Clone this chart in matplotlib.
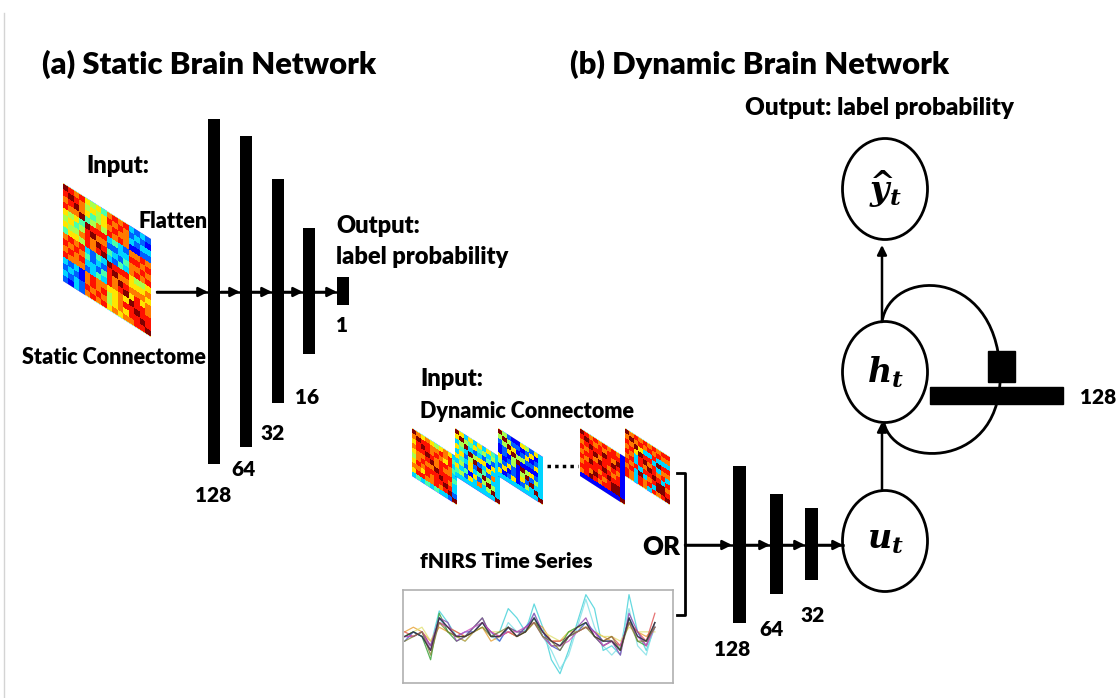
import numpy as np
import matplotlib
matplotlib.use("Agg")
import matplotlib.pyplot as plt
from matplotlib.patches import Ellipse, Rectangle, PathPatch
from matplotlib.path import Path
from matplotlib.transforms import Affine2D

plt.rcParams["font.family"] = ["Lato", "DejaVu Sans"]
plt.rcParams["mathtext.fontset"] = "custom"
plt.rcParams["mathtext.it"] = "DejaVu Serif:italic:bold"
plt.rcParams["mathtext.rm"] = "DejaVu Serif:bold"

# === data ===
static_units = [128, 64, 32, 16, 1]
dynamic_units = [128, 64, 32]
rnn_units = 128

# static connectome, lower triangle, digits 0..9 on the jet scale
static_conn = [
    "9",
    "89",
    "789",
    "8779",
    "65649",
    "564589",
    "6557879",
    "46658789",
    "787832439",
    "8787423289",
    "78783324879",
    "877723438789",
    "3231787766769",
    "23217878567889",
    "323287875676889",
    "2132787867677889",
]

# dynamic connectomes (5 windows shown), lower triangles
dyn_conn = [
    ["9", "79", "689", "7889", "67789", "578779", "6878889",
     "77687889", "688778789", "3434343329"],
    ["9", "69", "359", "6439", "36259", "643629", "3526349",
     "63416259", "452637359", "3333333339"],
    ["9", "59", "259", "1269", "12159", "612519", "5262159",
     "26121629", "612612539", "3333333339"],
    ["9", "89", "789", "8789", "78879", "879889", "7888789",
     "88798789", "789878899", "1111111119"],
    ["9", "79", "879", "7869", "87389", "783879", "8783889",
     "78393789", "873878399", "8738738789"],
]

# fNIRS channels (30 samples each)
fnirs = {
    "#3fd0d8": [0, 1, 0, -2, 5.5, 3, 0, -1, 1, 3, 0, 1, 6, 4, 1, 7, 2, -5, -8, -3, 3, 9, 6, -3, -2, -4, 9, 1, -3, 2],
    "#7fe0e6": [0, 0, 1, -3, 4, 1, 0, 0, 2, 3, 0, -1, 3, 1, 2, 5, 0, -3, -7, -4, 2, 8, 2, -2, -4, -2, 6, -2, -4, 3],
    "#e8a030": [1, 2, 1, -1, 2, 1, 0, -1, 1, 2, -1, 0, 1, 0, 1, 3, 2, -1, -1, 1, 1, 2, 1, 0, -1, -2, 3, 1, 0, 2],
    "#e0e070": [0, 1, 2, -1, 3, 2, 1, 0, 1, 2, 1, 1, 1, 0, 2, 3, 1, 0, -1, 1, 2, 2, 1, 0, 0, -1, 2, 1, 1, 1],
    "#e05050": [1, 0, 1, -2, 3, 2, 1, 0, 1, 3, 1, 0, 1, 0, 2, 3, 1, -1, -1, 0, 1, 2, 1, -1, 0, -2, 3, 1, -1, 5],
    "#30a030": [0, 1, 0, -5, 5, 1, -1, 0, 2, 4, 0, 0, 2, 1, 1, 4, 0, -2, -2, 1, 2, 3, 0, -2, -1, -3, 4, -1, -2, 3],
    "#4050d0": [-1, 1, 0, -3, 4, 2, 0, 1, 1, 3, 1, -1, 2, 0, 2, 4, 1, -2, -3, 0, 1, 3, 1, -1, -1, -3, 4, 0, -1, 2],
    "#9040b0": [0, 0, 1, -2, 4, 3, -1, 0, 2, 4, 0, 0, 2, 1, 1, 5, 1, -1, -2, 0, 2, 4, 0, -2, -1, -4, 5, 1, -2, 3],
    "#d050c0": [0, 0, 1, -3, 3, 2, 0, 1, 2, 3, 1, 0, 1, 1, 2, 3, 0, -2, -2, -1, 1, 2, 1, -2, -1, -2, 3, 0, -2, 2],
    "#808030": [-1, 0, 1, -4, 3, 1, 0, 0, 1, 2, 0, 1, 2, 0, 1, 3, 0, -1, -3, 0, 1, 2, 0, -1, 0, -3, 3, -1, -1, 2],
    "#303030": [0, 1, 0, -3, 4, 2, 0, 0, 1, 3, 0, 0, 2, 0, 1, 4, 1, -1, -2, 0, 2, 3, 0, -1, -1, -3, 4, 0, -1, 3],
}


def tri_to_matrix(rows):
    n = len(rows)
    m = np.zeros((n, n))
    for i, r in enumerate(rows):
        for j, c in enumerate(r):
            m[i, j] = int(c)
            m[j, i] = int(c)
    return m


def skew_map(ax, mat, x0, y0, w, h, shear):
    # unit square -> parallelogram with vertical sides
    tr = Affine2D(np.array([[w, 0, x0], [shear, h, y0], [0, 0, 1]])) + ax.transData
    ax.imshow(mat, cmap="jet", vmin=0, vmax=9, extent=(0, 1, 0, 1),
              origin="lower", interpolation="nearest", transform=tr)


fig = plt.figure(figsize=(11.16, 6.98), dpi=100)
ax = fig.add_axes([0, 0, 1, 1])

bold = dict(fontweight="heavy", color="black", va="center")

# === (a) static network ===
skew_map(ax, tri_to_matrix(static_conn), 63, 183, 88, 98, 56)

# === (b) dynamic connectome windows ===
for rows, x0 in zip(dyn_conn, [412, 455, 498, 580, 625]):
    skew_map(ax, tri_to_matrix(rows), x0, 428, 45, 48, 29)

ax.set_xlim(0, 1116)
ax.set_ylim(698, 0)
ax.set_aspect("auto")
ax.axis("off")

# faint left frame line
ax.plot([4, 4], [13, 698], color="#d4d4d4", lw=1)

# === titles ===
ax.text(42, 64, "(a) Static Brain Network", fontsize=22.3, ha="left", **bold)
ax.text(570, 64, "(b) Dynamic Brain Network", fontsize=22.3, ha="left", **bold)
ax.text(745, 108, "Output: label probability", fontsize=17.5, ha="left", **bold)

ax.text(86, 166, "Input:", fontsize=17, ha="left", **bold)
ax.text(139, 222, "Flatten", fontsize=15.5, ha="left", **bold)
ax.text(22, 357, "Static Connectome", fontsize=15.5, ha="left", **bold)

s_x = [214, 246, 278, 309, 343]
s_h = [345, 311, 224, 126, 28]
s_lab = [(213, 495), (243, 470), (273, 433), (307, 397), (342, 326)]
ax.bar(s_x, s_h, width=12, bottom=[291 - hh / 2 for hh in s_h], color="black")
for u, (lx, ly) in zip(static_units, s_lab):
    ax.text(lx, ly, str(u), fontsize=15, ha="center", **bold)

arrow = dict(arrowstyle="-|>", color="black", lw=1.8, mutation_scale=14, shrinkA=0, shrinkB=0)
ax.plot([157, 337], [292, 292], color="black", lw=1.8)
starts = [157, 221, 252, 284, 315]
for a, xx in zip(starts, s_x):
    ax.annotate("", xy=(xx - 6, 292), xytext=(a, 292), arrowprops=arrow)

ax.text(336, 226, "Output:", fontsize=17, ha="left", **bold)
ax.text(336, 257, "label probability", fontsize=17, ha="left", **bold)

# === (b) dynamic network ===
ax.text(420, 379, "Input:", fontsize=17, ha="left", **bold)
ax.text(420, 411, "Dynamic Connectome", fontsize=15.5, ha="left", **bold)
ax.plot([547, 578], [466, 466], color="black", lw=2.5, linestyle=(0, (1, 1.2)))

ax.text(420, 561, "fNIRS Time Series", fontsize=15.3, ha="left", **bold)
ts_ax = fig.add_axes([403 / 1116, 1 - 683 / 698, 270 / 1116, 93 / 698])
for col, vals in fnirs.items():
    ts_ax.plot(range(len(vals)), vals, color=col, lw=0.9, alpha=0.8)
ts_ax.set_xlim(-0.2, 31.1)
ts_ax.set_ylim(-10, 10)
ts_ax.set_xticks([])
ts_ax.set_yticks([])
for sp in ts_ax.spines.values():
    sp.set_color("#b0b0b0")
    sp.set_linewidth(1.2)

ax.text(642, 547, "OR", fontsize=18.5, ha="left", **bold)
ax.plot([677, 685, 685, 677], [473, 473, 615, 615], color="black", lw=2)

d_x = [739, 776, 811]
d_h = [157, 100, 72]
d_lab = [(732, 650), (772, 629), (813, 616)]
ax.bar(d_x, d_h, width=13, bottom=[544 - hh / 2 for hh in d_h], color="black")
for u, (lx, ly) in zip(dynamic_units, d_lab):
    ax.text(lx, ly, str(u), fontsize=15, ha="center", **bold)

ax.plot([685, 843], [545, 545], color="black", lw=1.8)
for a, b in zip([685, 746, 783, 818], [732, 770, 805, 843]):
    ax.annotate("", xy=(b, 545), xytext=(a, 545), arrowprops=arrow)

# RNN nodes
nodes = [(885, 189, r"$\widehat{y}_t$"), (885, 372, r"$h_t$"), (885, 541, r"$u_t$")]
for cx, cy, lab in nodes:
    ax.add_patch(Ellipse((cx, cy), 85, 101, fill=False, lw=2, ec="black"))
    ax.text(cx, cy, lab, fontsize=24, ha="center", va="center")

ax.annotate("", xy=(882, 422), xytext=(882, 490), arrowprops=arrow)
ax.annotate("", xy=(882, 245), xytext=(882, 322), arrowprops=arrow)

loop = Path([(882, 322), (890, 268), (995, 266), (1000, 370),
             (1005, 470), (895, 470), (884, 423)],
            [Path.MOVETO, Path.CURVE4, Path.CURVE4, Path.CURVE4,
             Path.CURVE4, Path.CURVE4, Path.CURVE4])
ax.add_patch(PathPatch(loop, fill=False, lw=2, ec="black"))

ax.add_patch(Rectangle((930, 387), 133, 17, color="black"))
ax.add_patch(Rectangle((988, 351), 27, 31, color="black"))
ax.text(1080, 397, str(rnn_units), fontsize=15, ha="left", **bold)

fig.savefig("out.png", dpi=100)
